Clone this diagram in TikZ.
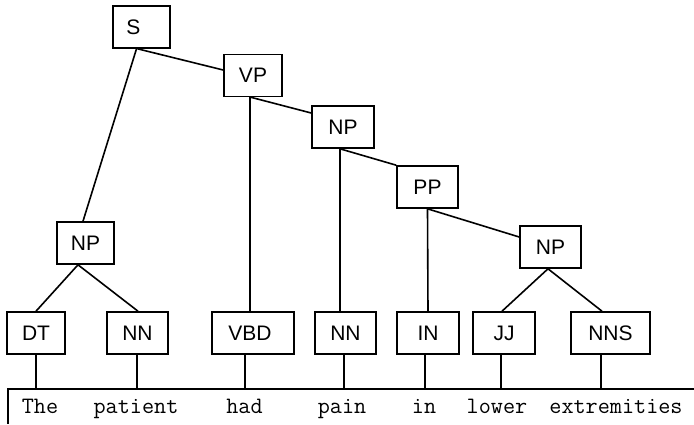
\documentclass[tikz,border=0pt]{standalone}
\usepackage{fontspec}
\setmainfont{Liberation Sans}
\begin{document}
\begin{tikzpicture}[x=1pt,y=-1pt,
  tag/.style={draw,line width=1.6pt,minimum height=42pt,inner sep=0pt,
    font=\fontsize{21}{25}\selectfont},
  edge/.style={line width=1.6pt},
  word/.style={anchor=base,inner sep=0pt,font=\ttfamily\fontsize{23.5}{27}\selectfont}]
\useasboundingbox (0,0) rectangle (694,424);
% phrase nodes
\node[tag,minimum width=57pt] (S)   at (141.5,27)  {S\hspace*{16pt}};
\node[tag,minimum width=58pt] (VP)  at (253,75.5)  {VP};
\node[tag,minimum width=62pt] (NPa) at (343,127)   {NP};
\node[tag,minimum width=61pt] (PP)  at (427.5,187) {PP};
\node[tag,minimum width=61pt] (NPb) at (550.5,247) {NP};
\node[tag,minimum width=57pt] (NPc) at (85.5,243)  {NP};
% POS nodes
\node[tag,minimum width=58pt] (DT)  at (36,333)    {DT};
\node[tag,minimum width=61pt] (NNa) at (137.5,333) {NN};
\node[tag,minimum width=82pt] (VBD) at (253,333)   {VBD\hspace*{6pt}};
\node[tag,minimum width=61pt] (NNb) at (345.5,333) {NN};
\node[tag,minimum width=62pt] (IN)  at (428,333)   {IN};
\node[tag,minimum width=62pt] (JJ)  at (504,333)   {JJ};
\node[tag,minimum width=79pt] (NNS) at (610.5,333) {NNS};
% sentence box
\draw[edge] (694,389) -- (8,389) -- (8,424);
\coordinate (w1) at (36,389);
\coordinate (w2) at (137,389);
\coordinate (w3) at (245,389);
\coordinate (w4) at (344,389);
\coordinate (w5) at (425,389);
\coordinate (w6) at (501,389);
\coordinate (w7) at (601,389);
\node[word] (t1) at (40,413)    {The};
\node[word] (t2) at (136,413)   {patient};
\node[word] (t3) at (244.5,413) {had};
\node[word] (t4) at (342,413)   {pain};
\node[word] (t5) at (424,413)   {in};
\node[word] (t6) at (497,413)   {lower};
\node[word] (t7) at (616,413)   {extremities};
% tree edges
\draw[edge] ([xshift=-5pt]S.south) -- ([xshift=-2.5pt]NPc.north);
\draw[edge] ([xshift=-4pt]S.south) -- ([yshift=5.5pt]VP.west);
\draw[edge] ([xshift=-2pt]VP.south) -- ([yshift=14pt]NPa.west);
\draw[edge] ([xshift=-3pt]VP.south) -- ([xshift=-3pt]VBD.north);
\draw[edge] ([xshift=-3pt]NPa.south) -- (PP.north west);
\draw[edge] ([xshift=-3pt]NPa.south) -- ([xshift=-5.5pt]NNb.north);
\draw[edge] (PP.south) -- (IN.north);
\draw[edge] (PP.south) -- ([yshift=10pt]NPb.west);
\draw[edge] ([xshift=-2.5pt]NPb.south) -- ([xshift=-2pt]JJ.north);
\draw[edge] ([xshift=-2.5pt]NPb.south) -- ([xshift=-8.5pt]NNS.north);
\draw[edge] ([xshift=-7.5pt]NPc.south) -- (DT.north);
\draw[edge] ([xshift=-7.5pt]NPc.south) -- ([xshift=0.5pt]NNa.north);
% leaf edges
\draw[edge] (DT.south) -- (w1);
\draw[edge] ([xshift=-0.5pt]NNa.south) -- (w2);
\draw[edge] ([xshift=-8pt]VBD.south) -- (w3);
\draw[edge] ([xshift=-1.5pt]NNb.south) -- (w4);
\draw[edge] ([xshift=-3pt]IN.south) -- (w5);
\draw[edge] ([xshift=-3pt]JJ.south) -- (w6);
\draw[edge] ([xshift=-9.5pt]NNS.south) -- (w7);
\end{tikzpicture}
\end{document}
